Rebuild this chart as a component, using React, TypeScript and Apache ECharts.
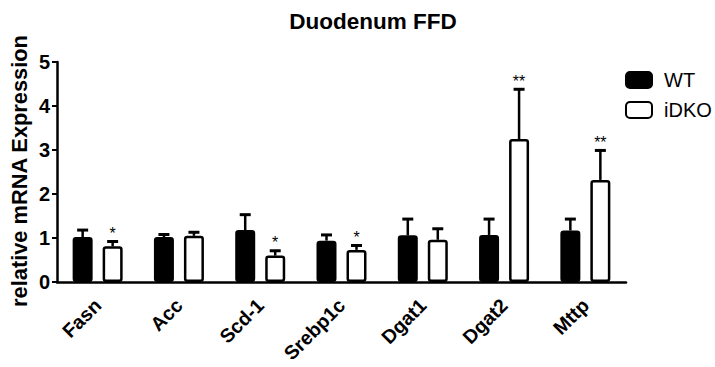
import React, { useEffect, useRef } from "react";
import * as echarts from "echarts";

const categories = ["Fasn", "Acc", "Scd-1", "Srebp1c", "Dgat1", "Dgat2", "Mttp"];
const wtValues = [1.02, 1.02, 1.18, 0.94, 1.06, 1.07, 1.17];
const wtErrors = [0.16, 0.06, 0.35, 0.13, 0.37, 0.36, 0.26];
const koValues = [0.81, 1.05, 0.6, 0.73, 0.96, 3.25, 2.32];
const koErrors = [0.11, 0.08, 0.11, 0.1, 0.25, 1.13, 0.67];
const koSignif = ["*", "", "*", "*", "", "**", "**"];
const yTicks = [0, 1, 2, 3, 4, 5];

const FONT = "'Liberation Sans', Arial, sans-serif";
const BAR_W = 20;
const HALF_SEP = 15;

export default function App() {
  const ref = useRef<HTMLDivElement>(null);
  useEffect(() => {
    if (!ref.current) return;
    const chart = echarts.init(ref.current, null, { renderer: "svg" });

    const errData: any[] = [];
    categories.forEach((_, i) => {
      errData.push([i, wtValues[i], wtErrors[i], -1, ""]);
      errData.push([i, koValues[i], koErrors[i], 1, koSignif[i]]);
    });

    const option: any = {
      animation: false,
      grid: { left: 57, right: 89, top: 62, bottom: 85, containLabel: false },
      graphic: [
        {
          type: "text",
          x: 373,
          y: 21,
          style: {
            text: "Duodenum FFD",
            font: `bold 22.5px ${FONT}`,
            fill: "#000",
            textAlign: "center",
            textVerticalAlign: "middle",
          },
        },
        {
          type: "text",
          x: 19,
          y: 171,
          rotation: Math.PI / 2,
          style: {
            text: "relative mRNA Expression",
            font: `bold 21.8px ${FONT}`,
            fill: "#000",
            textAlign: "center",
            textVerticalAlign: "middle",
          },
        },
      ],
      legend: {
        orient: "vertical",
        left: 625,
        top: 70,
        padding: 0,
        itemGap: 10,
        itemWidth: 26,
        itemHeight: 16,
        textStyle: { fontFamily: FONT, fontSize: 20, color: "#000", padding: [0, 0, 0, 7] },
        data: [
          { name: "WT", icon: "roundRect" },
          { name: "iDKO", icon: "roundRect" },
        ],
      },
      xAxis: {
        type: "category",
        data: categories,
        boundaryGap: true,
        axisLine: { lineStyle: { color: "#000", width: 2.5 } },
        axisTick: { alignWithLabel: true, length: 5, lineStyle: { color: "#000", width: 2 } },
        axisLabel: {
          rotate: 45,
          margin: 20,
          color: "#000",
          fontFamily: FONT,
          fontWeight: "bold",
          fontSize: 19.5,
        },
      },
      yAxis: {
        type: "value",
        min: 0,
        max: 5,
        interval: 1,
        axisLine: { show: true, lineStyle: { color: "#000", width: 2.5 } },
        axisTick: { show: true, length: 5, lineStyle: { color: "#000", width: 2 } },
        splitLine: { show: false },
        axisLabel: {
          margin: 7,
          color: "#000",
          fontFamily: FONT,
          fontWeight: "bold",
          fontSize: 20,
          formatter: (v: number) => (yTicks.includes(v) ? String(v) : ""),
        },
      },
      series: [
        {
          name: "WT",
          type: "bar",
          data: wtValues,
          barWidth: BAR_W,
          barGap: "50%",
          itemStyle: { color: "#000", borderColor: "#000", borderWidth: 2.5, borderRadius: 2 },
          z: 3,
        },
        {
          name: "iDKO",
          type: "bar",
          data: koValues,
          barWidth: BAR_W,
          barGap: "50%",
          itemStyle: { color: "#fff", borderColor: "#000", borderWidth: 2.5, borderRadius: 2 },
          z: 3,
        },
        {
          name: "err",
          type: "custom",
          data: errData,
          z: 2,
          silent: true,
          renderItem: (params: any, api: any) => {
            const i = api.value(0);
            const v = api.value(1);
            const e = api.value(2);
            const side = api.value(3);
            const sig = errData[params.dataIndex][4];
            const base = api.coord([i, v]);
            const top = api.coord([i, v + e]);
            const x = base[0] + side * HALF_SEP;
            const children: any[] = [
              {
                type: "line",
                shape: { x1: x, y1: base[1], x2: x, y2: top[1] },
                style: { stroke: "#000", lineWidth: 2.5 },
              },
              {
                type: "line",
                shape: { x1: x - 5.5, y1: top[1], x2: x + 5.5, y2: top[1] },
                style: { stroke: "#000", lineWidth: 3 },
              },
            ];
            if (sig) {
              children.push({
                type: "text",
                x: x,
                y: top[1],
                style: {
                  text: sig,
                  font: `16px ${FONT}`,
                  fill: "#000",
                  textAlign: "center",
                  textVerticalAlign: "bottom",
                },
              });
            }
            return { type: "group", children };
          },
        },
      ],
    };
    chart.setOption(option);
    return () => chart.dispose();
  }, []);
  return (
    <div
      ref={ref}
      style={{ position: "absolute", left: 0, top: 0, width: 715, height: 367 }}
    />
  );
}
